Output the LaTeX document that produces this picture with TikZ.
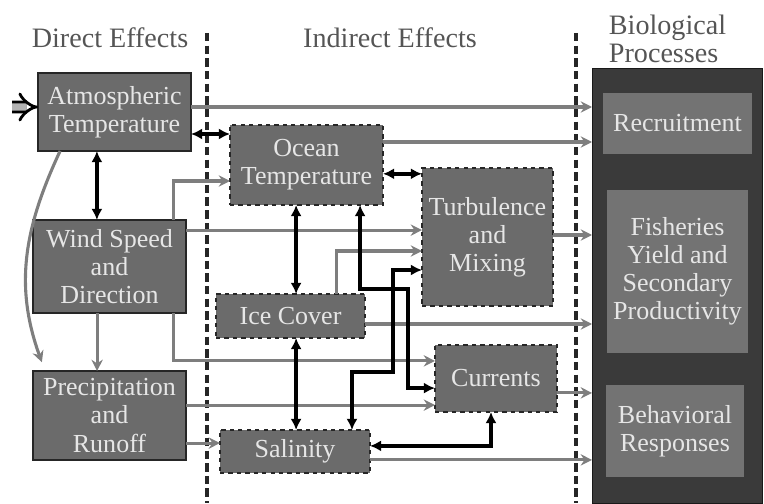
\documentclass[tikz,border=0pt]{standalone}
\usepackage{fontspec}
\setmainfont{Liberation Serif}
\newfontfamily\diagfont{Liberation Serif}
\usetikzlibrary{arrows.meta, calc}

\definecolor{boxgray}{HTML}{6B6B6B}
\definecolor{biopanel}{HTML}{3A3A3A}
\definecolor{biobox}{HTML}{737373}
\definecolor{boxtext}{HTML}{E6E6E6}
\definecolor{headtext}{HTML}{555555}
\definecolor{feedgray}{HTML}{7E7E7E}

\begin{document}
\begin{tikzpicture}[
    factor/.style={draw=black!85, line width=0.9pt, fill=boxgray, text=boxtext, align=center, inner sep=0pt, outer sep=0pt, font=\diagfont\fontsize{18.5}{20}\selectfont},
    indirect/.style={factor, dashed},
    bioitem/.style={factor, draw=none, fill=biobox},
    head/.style={text=headtext, font=\diagfont\fontsize{20}{19.5}\selectfont},
    feed/.style={-{Stealth[length=8pt,width=8pt]}, draw=feedgray, line width=2.2pt},
    link/.style={{Latex[length=8pt,width=8pt]}-{Latex[length=8pt,width=8pt]}, line width=2.8pt},
    input/.style={-{Implies}, double=gray!60, double distance=5pt, line width=2pt},
    divider/.style={line width=2.6pt, dash pattern=on 6pt off 3pt, black!85}
]
\useasboundingbox (0,0) rectangle (19.1,12.575);

% column headings
\node[head] (hdirect) at (2.75,11.625) {Direct Effects};
\node[head] (hindirect) at (9.75,11.625) {Indirect Effects};
\node[head, anchor=west, align=left] (hbio) at (15.1,11.6) {Biological\\Processes};

\draw[divider] (5.175,11.75) -- (5.175,0);
\draw[divider] (14.4,11.75) -- (14.4,0);

% direct effects
\node[factor, minimum width=3.825cm, minimum height=1.95cm] (atm) at (2.8625,9.775) {Atmospheric\\Temperature};
\node[factor, minimum width=3.825cm, minimum height=2.325cm] (wind) at (2.7375,5.9125) {Wind Speed\\and\\Direction};
\node[factor, minimum width=3.825cm, minimum height=2.225cm] (precip) at (2.7375,2.1875) {Precipitation\\and\\Runoff};

% indirect effects
\node[indirect, minimum width=3.825cm, minimum height=2cm] (ocean) at (7.6625,8.45) {Ocean\\Temperature};
\node[indirect, minimum width=3.275cm, minimum height=3.45cm] (turb) at (12.1875,6.65) {Turbulence\\and\\Mixing};
\node[indirect, minimum width=3.725cm, minimum height=1.1cm] (ice) at (7.2625,4.675) {Ice Cover};
\node[indirect, minimum width=3.05cm, minimum height=1.675cm] (curr) at (12.4,3.1125) {Currents};
\node[indirect, minimum width=3.75cm, minimum height=1.075cm] (sal) at (7.375,1.2875) {Salinity};

% biological processes
\node[draw=black!90, fill=biopanel, minimum width=4.25cm, minimum height=10.875cm, inner sep=0pt, outer sep=0pt] (bio) at (16.925,5.4375) {};
\node[bioitem, minimum width=3.725cm, minimum height=1.525cm] (recr) at (16.9375,9.4875) {Recruitment};
\node[bioitem, minimum width=3.525cm, minimum height=4.075cm] (fish) at (16.9375,5.7875) {Fisheries\\Yield and\\Secondary\\Productivity};
\node[bioitem, minimum width=3.45cm, minimum height=2.3cm] (behav) at (16.875,1.8) {Behavioral\\Responses};

% outside forcing
\coordinate (forcing) at (0.3,9.9);
\draw[input] (forcing) -- ([yshift=0.125cm]atm.west);

% grey one-way effects
\draw[feed] ([yshift=0.125cm]atm.east) -- ([yshift=0.125cm]atm.east -| bio.west);
\draw[feed] ([yshift=0.575cm]ocean.east) -- ([yshift=0.575cm]ocean.east -| bio.west);
\draw[feed] ([yshift=0.05cm]turb.east) -- ([yshift=0.05cm]turb.east -| bio.west);
\draw[feed] ([yshift=-0.2cm]ice.east) -- ([yshift=-0.2cm]ice.east -| bio.west);
\draw[feed] ([yshift=-0.36cm]curr.east) -- ([yshift=-0.36cm]curr.east -| bio.west);
\draw[feed] ([yshift=-0.21cm]sal.east) -- ([yshift=-0.21cm]sal.east -| bio.west);
\draw[feed] ([xshift=1.59cm]wind.north) |- ([yshift=-0.4cm]ocean.west);
\draw[feed] ([yshift=0.91cm]wind.east) -- ([yshift=0.91cm]wind.east -| turb.west);
\draw[feed] ([xshift=1.14cm]ice.north) |- ([yshift=-0.35cm]turb.west);
\draw[feed] ([xshift=1.59cm]wind.south) |- ([yshift=0.44cm]curr.west);
\draw[feed] ([xshift=-0.31cm]wind.south) -- ([xshift=-0.31cm]precip.north);
\draw[feed] ([xshift=-1.36cm]atm.south) to[out=245, in=110] ([xshift=-1.69cm, yshift=0.22cm]precip.north);
\draw[feed] ([yshift=0.26cm]precip.east) -- ([yshift=0.26cm]precip.east -| curr.west);
\draw[feed] ([yshift=-0.69cm]precip.east) -- ([yshift=-0.69cm]precip.east -| sal.west);

% black two-way links
\draw[link] ([yshift=-0.55cm]atm.east) -- ([yshift=-0.55cm]atm.east -| ocean.west);
\draw[link] ([xshift=-0.44cm]atm.south) -- ([xshift=-0.44cm]atm.south |- wind.north);
\draw[link] ([yshift=-0.22cm]ocean.east) -- ([yshift=-0.22cm]ocean.east -| turb.west);
\draw[link] ([xshift=-0.26cm]ocean.south) -- ([xshift=-0.26cm]ocean.south |- ice.north);
\draw[link] ([xshift=0.14cm]ice.south) -- ([xshift=0.14cm]ice.south |- sal.north);
\draw[link] ([yshift=0.14cm]sal.east) -| ([xshift=-0.125cm]curr.south);
\draw[link] ([xshift=1.34cm]ocean.south) -- ++(0,-2.1cm) -| ([xshift=-0.675cm, yshift=-0.24cm]curr.west) -- ([yshift=-0.24cm]curr.west);
\draw[link] ([yshift=-0.825cm]turb.west) -- ++(-0.725cm,0) |- ([xshift=1.425cm, yshift=1.45cm]sal.north) -- ([xshift=1.425cm]sal.north);
\end{tikzpicture}
\end{document}
